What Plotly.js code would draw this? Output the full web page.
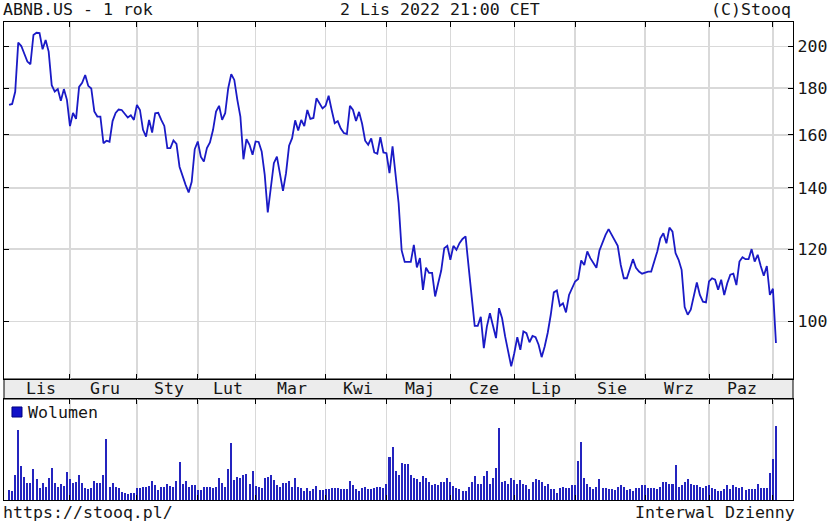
<!DOCTYPE html>
<html>
<head>
<meta charset="utf-8">
<script src="https://cdn.plot.ly/plotly-3.0.1.min.js"></script>
<style>html,body{margin:0;padding:0;background:#fff;}#chart{width:829px;height:525px;}</style>
</head>
<body>
<div id="chart"></div>
<script>
// Month labels (Polish), one per month of the window
const monthLabels = ['Lis','Gru','Sty','Lut','Mar','Kwi','Maj','Cze','Lip','Sie','Wrz','Paz','Lis'];

// Daily close, ABNB.US, per month (trading days)
const close_2021_11 = [172.6,173.0,178.4,201.9,200.2,196.6,192.5,191.2,205.9,207.0,206.8,198.6,203.3,197.4,181.4,178.5,179.6,174.4,179.6,174.8];
const close_2021_12 = [163.6,169.1,166.6,180.6,182.5,186.1,181.1,179.9,169.8,167.6,167.6,156.7,157.7,157.3,165.7,169.1,170.6,170.4,168.7,167.2,168.1,166.2];
const close_2022_01 = [172.6,170.4,162.1,159.3,166.2,161.0,169.0,169.2,166.2,163.7,154.8,154.8,157.8,156.4,147.7,144.1,141.1,138.4,142.2,154.4];
const close_2022_02 = [157.4,151.5,149.6,154.8,157.0,162.0,169.7,172.2,166.2,169.0,180.0,186.5,183.8,174.8,167.6,150.5,158.3,156.1,152.2];
const close_2022_03 = [157.4,157.2,153.5,144.7,131.6,140.5,149.0,151.5,145.8,139.0,145.3,155.7,158.7,166.0,161.8,166.2,163.6,170.4,166.6,167.0,175.5,173.5,171.1];
const close_2022_04 = [172.2,176.6,170.4,164.8,165.7,162.6,160.8,160.4,172.2,170.4,165.7,169.6,164.6,157.7,156.1,158.6,153.1,152.6,159.1,153.1];
const close_2022_05 = [152.8,145.3,155.5,144.6,134.7,119.6,116.2,116.2,116.2,121.3,114.6,117.3,108.3,114.5,113.0,113.0,106.5,110.1,113.7,120.3,121.0];
const close_2022_06 = [116.8,121.0,119.8,121.8,123.1,123.9,114.8,106.5,98.9,98.9,101.2,93.5,98.7,102.1,99.1,95.9,103.4,100.8,96.3,93.1,89.3];
const close_2022_07 = [92.3,96.1,93.1,97.5,97.1,94.9,96.4,96.1,94.3,91.4,93.9,97.2,101.7,107.6,108.1,104.0,104.7,102.3,106.9,108.8];
const close_2022_08 = [110.6,111.3,116.6,115.3,119.3,117.3,115.8,114.5,119.6,122.3,124.4,126.2,124.4,122.3,121.0,115.3,111.5,111.5,113.9,117.0,114.5,113.4,112.8];
const close_2022_09 = [113.1,113.4,113.4,116.3,119.3,123.3,124.9,121.8,126.7,125.4,118.8,116.8,113.9,103.7,101.7,103.0,106.5,110.3,106.9,105.1,104.9];
const close_2022_10 = [110.6,111.5,111.1,108.3,111.1,106.9,110.1,112.5,112.8,109.6,116.3,117.6,117.0,117.0,120.0,116.3,118.3,115.0,112.2,115.0,106.9];
const close_2022_11 = [108.6,94.7];

// Daily volume (millions of shares), per month
const vol_2021_11 = [3.0,2.7,7.5,21.0,10.2,6.9,5.1,5.1,9.3,6.3,3.6,5.1,3.9,6.6,9.6,5.1,3.9,4.8,4.2,8.4];
const vol_2021_12 = [6.3,5.1,5.4,7.5,5.1,3.6,3.3,3.6,5.7,5.1,5.1,7.5,18.3,3.9,5.1,3.9,3.6,2.4,2.1,1.8,2.1,2.1];
const vol_2022_01 = [3.6,3.6,3.9,3.9,4.2,5.7,4.5,3.0,3.9,3.9,4.8,4.2,3.9,5.7,11.4,4.8,5.7,3.9,4.5,4.5];
const vol_2022_02 = [3.0,3.0,3.9,3.9,3.9,3.6,3.9,6.6,5.1,3.9,9.3,17.1,6.0,6.9,6.6,7.5,7.8,4.8,8.7];
const vol_2022_03 = [4.2,3.9,3.6,6.6,6.9,7.5,6.0,4.5,3.9,5.1,5.1,5.7,3.9,6.6,3.9,3.6,2.7,3.6,2.7,3.3,4.2,3.0,3.0];
const vol_2022_04 = [3.3,3.3,3.6,3.6,3.6,3.3,3.3,3.3,5.7,4.5,3.3,2.7,3.6,3.9,3.3,3.3,3.6,3.9,3.9,3.6];
const vol_2022_05 = [4.8,12.9,15.9,8.7,7.5,11.1,10.8,10.8,7.5,6.6,6.3,5.4,7.2,6.6,5.4,4.5,4.8,4.5,5.4,5.4,6.6];
const vol_2022_06 = [5.4,4.2,3.6,3.3,2.7,2.7,3.9,5.4,7.2,4.8,4.8,7.2,8.7,4.8,6.6,9.6,21.6,5.4,5.7,4.8,6.6];
const vol_2022_07 = [6.0,4.8,6.0,4.8,4.5,3.3,5.4,6.3,6.0,5.4,4.2,4.8,3.3,3.3,2.1,3.6,3.9,3.6,3.6,4.5];
const vol_2022_08 = [4.5,11.7,17.4,6.6,4.8,3.9,3.3,3.9,6.3,3.6,3.6,3.3,3.3,3.0,3.9,4.5,3.9,3.0,3.3,2.7,3.6,3.6,4.5];
const vol_2022_09 = [4.5,3.6,3.6,3.6,3.3,3.9,5.4,5.4,4.8,4.8,10.5,3.9,4.5,5.4,6.3,4.8,4.5,4.5,3.9,3.6,4.2];
const vol_2022_10 = [4.5,3.6,3.3,2.7,2.7,3.3,4.5,3.3,4.5,3.9,3.6,3.9,3.0,3.3,3.3,3.3,4.8,3.6,3.6,3.6,8.1];
const vol_2022_11 = [12.3,22.2];

const priceTicks = [100,120,140,160,180,200];

// ---- build series from the arrays ----
const closeMonths = [close_2021_11,close_2021_12,close_2022_01,close_2022_02,close_2022_03,close_2022_04,close_2022_05,close_2022_06,close_2022_07,close_2022_08,close_2022_09,close_2022_10,close_2022_11];
const volMonths = [vol_2021_11,vol_2021_12,vol_2022_01,vol_2022_02,vol_2022_03,vol_2022_04,vol_2022_05,vol_2022_06,vol_2022_07,vol_2022_08,vol_2022_09,vol_2022_10,vol_2022_11];
const closeAll = [].concat(...closeMonths);
const volAll = [].concat(...volMonths);
const idx = closeAll.map((_, i) => i);

const monthStart = [];
const monthMid = [];
let acc = 0;
closeMonths.forEach(m => { monthStart.push(acc); monthMid.push(acc + (m.length - 1) / 2 + 1); acc += m.length; });
const gridVals = monthStart.slice(1);

const FONT = 'DejaVu Sans Mono, monospace';
const TXT = '#161616';
const GRID = '#d9d9d9';
const BLUE = '#1a1ac6';

const xr = [-1.68, 257.6];
const topDom = [0.25314, 1];
const stripDom = [0.21130, 0.25314];
const volDom = [0, 0.21130];

const traces = [
  { x: idx, y: closeAll, type: 'scatter', mode: 'lines', xaxis: 'x', yaxis: 'y',
    line: { color: BLUE, width: 1.8 }, hoverinfo: 'skip', showlegend: false },
  { x: idx, y: volAll, type: 'bar', xaxis: 'x2', yaxis: 'y2', width: 0.66,
    marker: { color: '#2424bf', line: { width: 0 } }, hoverinfo: 'skip', showlegend: false }
];

const FS = 16.6;
const annotations = [];
monthLabels.slice(0, 12).forEach((t, i) => {
  annotations.push({ text: t, x: monthMid[i], xref: 'x', y: (stripDom[0] + stripDom[1]) / 2, yref: 'paper',
    xanchor: 'center', yanchor: 'middle', showarrow: false, font: { family: FONT, size: FS, color: TXT } });
});
const pf = { family: FONT, size: FS, color: TXT };
annotations.push({ text: 'ABNB.US - 1 rok', x: -0.004, xref: 'paper', y: 1.026, yref: 'paper', xanchor: 'left', yanchor: 'middle', showarrow: false, font: pf });
annotations.push({ text: '2 Lis 2022 21:00 CET', x: 0.5526, xref: 'paper', y: 1.026, yref: 'paper', xanchor: 'center', yanchor: 'middle', showarrow: false, font: pf });
annotations.push({ text: '(C)Stooq', x: 1.0, xref: 'paper', y: 1.026, yref: 'paper', xanchor: 'right', yanchor: 'middle', showarrow: false, font: pf });
annotations.push({ text: 'https://stooq.pl/', x: -0.004, xref: 'paper', y: -0.026, yref: 'paper', xanchor: 'left', yanchor: 'middle', showarrow: false, font: pf });
annotations.push({ text: 'Interwal Dzienny', x: 1.0045, xref: 'paper', y: -0.026, yref: 'paper', xanchor: 'right', yanchor: 'middle', showarrow: false, font: pf });
annotations.push({ text: 'Wolumen', x: 0.028, xref: 'paper', y: 0.184, yref: 'paper', xanchor: 'left', yanchor: 'middle', showarrow: false, font: pf });

const shapes = [
  { type: 'rect', xref: 'paper', yref: 'paper', x0: 0, x1: 1, y0: stripDom[0], y1: stripDom[1],
    fillcolor: '#ececec', line: { color: '#000', width: 1 }, layer: 'below' },
  { type: 'rect', xref: 'paper', yref: 'paper', x0: 0.0101, x1: 0.0228, y0: 0.1736, y1: 0.1946,
    fillcolor: '#1010c8', line: { color: '#000080', width: 1 } }
];

const axBase = { showline: true, linecolor: '#000', linewidth: 1.2, mirror: 'ticks', ticks: 'inside', ticklen: 5,
  tickcolor: '#000', showgrid: true, gridcolor: GRID, gridwidth: 1.5, zeroline: false, fixedrange: true };

const layout = {
  width: 829, height: 525,
  margin: { l: 4, r: 36, t: 22, b: 25, pad: 0 },
  paper_bgcolor: '#fff', plot_bgcolor: '#fff',
  font: { family: FONT, size: FS, color: TXT },
  showlegend: false,
  xaxis: Object.assign({}, axBase, { domain: [0, 1], anchor: 'y', range: xr, tickmode: 'array', tickvals: gridVals, showticklabels: false }),
  yaxis: Object.assign({}, axBase, { domain: topDom, anchor: 'x', type: 'log', side: 'right',
    range: [Math.log10(86.5), Math.log10(212.7)], tickmode: 'array', tickvals: priceTicks, ticktext: priceTicks.map(String),
    tickfont: { family: FONT, size: FS, color: TXT } }),
  xaxis2: Object.assign({}, axBase, { domain: [0, 1], anchor: 'y2', range: xr, tickmode: 'array', tickvals: gridVals, showticklabels: false }),
  yaxis2: { domain: volDom, anchor: 'x2', range: [0, 30.3], showline: true, linecolor: '#000', linewidth: 1.2, mirror: true,
    ticks: '', showticklabels: false, showgrid: false, zeroline: false, fixedrange: true },
  bargap: 0,
  annotations: annotations,
  shapes: shapes
};

Plotly.newPlot('chart', traces, layout, { displayModeBar: false, staticPlot: true });
</script>
</body>
</html>
